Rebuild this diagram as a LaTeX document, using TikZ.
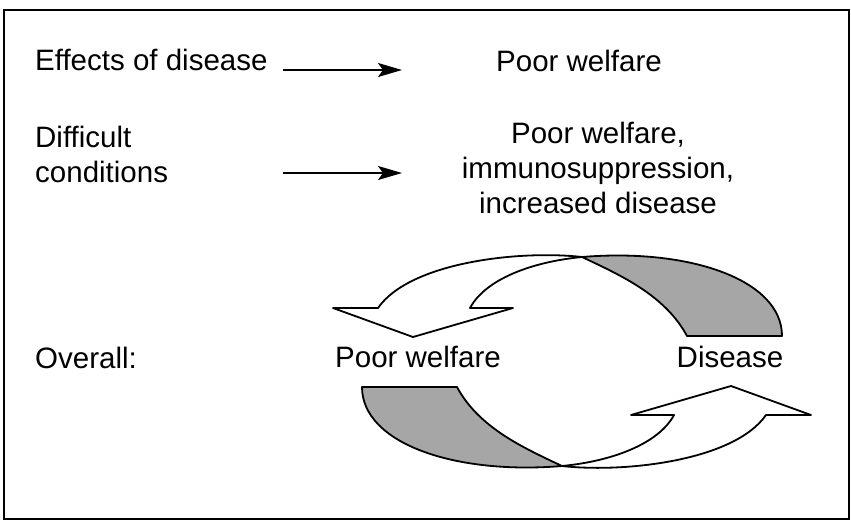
\documentclass[tikz,border=0pt]{standalone}
\usepackage{fontspec}
\setmainfont{Liberation Sans}
\usetikzlibrary{arrows.meta}

\begin{document}
\begin{tikzpicture}[
    x=1pt, y=-1pt,
    every node/.style={font=\fontsize{29.5}{35}\selectfont, inner sep=0pt},
    arr/.style={line width=1.5pt, -{Stealth[length=24pt, width=14pt, inset=5pt]}},
    ribbon/.style={draw, line width=1.8pt, line join=round},
    back/.style={ribbon, fill=black!35},
    front/.style={ribbon, fill=white}
  ]
  \useasboundingbox (0,0) rectangle (851,522);
  \draw[line width=2pt] (4,10) rectangle (849,519);

  % Left column
  \node[anchor=base west] (effects) at (35,70) {Effects of disease};
  \node[anchor=base west, align=left] (difficult) at (35,182) {Difficult\\conditions};
  \node[anchor=base west] (overall) at (35,368) {Overall:};

  % Right column
  \node[anchor=base] (pwtop) at (579,71) {Poor welfare};
  \node[anchor=base, align=center] (combined) at (598,213)
    {Poor welfare,\\immunosuppression,\\increased disease};
  \node[anchor=base] (pw) at (418,367) {Poor welfare};
  \node[anchor=base] (disease) at (730,367) {Disease};

  % Straight arrows
  \coordinate (a1) at (283,70);
  \coordinate (b1) at (402,70);
  \coordinate (a2) at (283,173);
  \coordinate (b2) at (402,173);
  \draw[arr] (a1) -- (b1);
  \draw[arr] (a2) -- (b2);

  % Twisted ribbon arrows, the lower one turned half a turn
  \foreach \ang in {0,180}{
    \begin{scope}[rotate around={\ang:(572,361.5)}]
      \draw[back] (582,257) .. controls (620,275) and (665,295) .. (687,336)
        -- (782,336) .. controls (782,280) and (690,248) .. (582,257) -- cycle;
      \draw[front] (582,257) .. controls (520,250) and (410,262) .. (378,308)
        -- (333,308) -- (413,337) -- (513,308) -- (470,308)
        .. controls (485,280) and (530,262) .. (582,257) -- cycle;
    \end{scope}
  }
\end{tikzpicture}
\end{document}
